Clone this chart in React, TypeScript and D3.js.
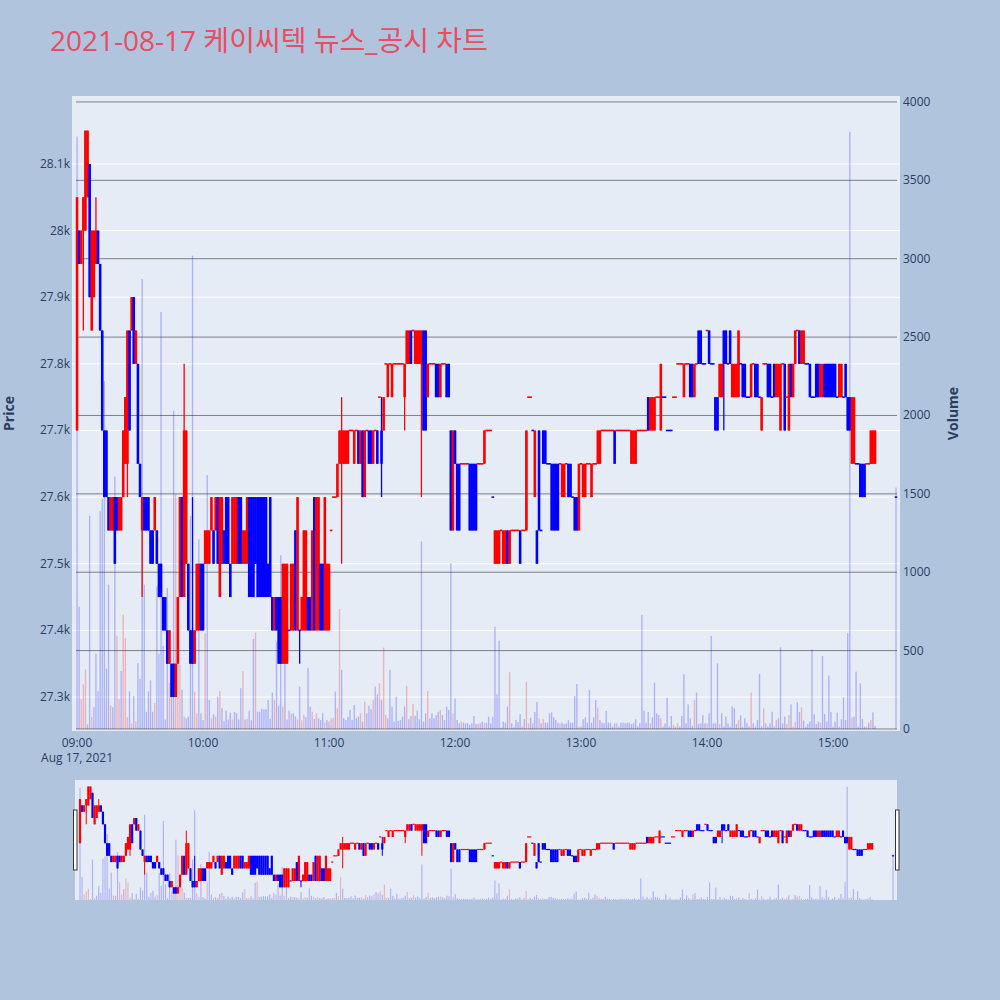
import React from "react";
import * as d3 from "d3";

// ---- text ----
const chartTitle = "2021-08-17 케이씨텍 뉴스_공시 차트";
const dateLabel = "Aug 17, 2021";
const hourLabels = ["09:00", "10:00", "11:00", "12:00", "13:00", "14:00", "15:00"];
const priceTicks = [27300, 27400, 27500, 27600, 27700, 27800, 27900, 28000, 28100];
const volumeTicks = [0, 500, 1000, 1500, 2000, 2500, 3000, 3500, 4000];

// ---- data: index = minutes after 09:00 (null = no trade) ----
const N = null;
const open = [
  27700, 28000, 27950, 28000, 28000, 28050, 28100, 27850, 27900, 27950,
  28000, 27950, 27850, 27700, 27700, 27600, 27550, 27550, 27600, 27600,
  27550, 27550, 27600, 27650, 27650, 27850, 27850, 27900, 27800, 27800,
  27650, 27550, 27600, 27600, 27600, 27550, 27550, 27550, 27550, 27500,
  27500, 27450, 27450, 27400, 27350, 27350, 27350, 27300, 27350, 27450,
  27600, 27450, 27500, 27500, 27400, 27400, 27350, 27400, 27400, 27500,
  27500, 27500, 27500, 27500, 27550, 27550, 27550, 27600, 27450, 27500,
  27550, 27600, 27600, 27500, 27500, 27500, 27500, 27600, 27600, 27500,
  27500, 27500, 27600, 27600, 27600, 27600, 27600, 27600, 27600, 27600,
  27600, 27500, 27600, 27450, 27400, 27450, 27450, 27450, 27350, 27350,
  27350, 27400, 27400, 27400, 27550, 27400, 27400, 27400, 27400, 27400,
  27450, 27450, 27400, 27600, 27400, 27400, 27500, 27500, 27400, 27400,
  27400, 27550, 27600, 27600, 27600, 27650, 27650, 27650, 27650, 27650,
  27700, 27700, 27650, 27700, 27700, 27650, 27700, 27600, 27700, 27700,
  27700, 27650, 27700, 27700, 27750, 27700, 27700, 27800, 27750, 27800,
  27750, 27800, 27800, 27800, 27800, 27800, 27750, 27800, 27800, 27850,
  27850, 27800, 27800, 27800, 27800, 27850, 27850, 27750, 27800, 27800,
  27800, 27800, 27800, 27750, 27800, 27800, 27800, 27800, 27700, 27550,
  27700, 27650, 27650, 27650, 27650, 27650, 27650, 27650, 27650, 27650,
  27650, 27650, 27650, 27650, 27650, 27700, 27700, 27700, 27600, 27500,
  27500, 27500, 27550, 27500, 27500, 27550, 27500, 27550, 27550, 27550,
  27550, 27550, 27550, 27550, 27550, 27750, 27750, 27700, 27600, 27550,
  27700, 27550, 27700, 27700, 27650, 27650, 27650, 27650, 27650, 27650,
  27650, 27600, 27600, 27650, 27650, 27650, 27600, 27600, 27600, 27550,
  27650, 27600, 27600, 27650, 27650, 27600, 27650, 27650, 27650, 27650,
  27700, 27700, 27700, 27700, 27700, 27700, 27700, 27700, 27700, 27700,
  27700, 27700, 27700, 27700, 27650, 27650, 27650, 27700, 27700, 27700,
  27700, 27700, 27750, 27700, 27700, 27700, 27750, 27750, 27700, 27750,
  27750, 27700, 27700, 27700, 27750, 27750, 27800, 27800, 27800, 27750,
  27800, 27800, 27800, 27800, 27750, 27800, 27850, 27850, 27800, 27800,
  27850, 27850, 27800, 27800, 27750, 27750, 27750, 27750, 27850, 27850,
  27800, 27850, 27750, 27750, 27750, 27750, 27800, 27800, 27800, 27750,
  27750, 27750, 27800, 27800, 27800, 27750, 27700, 27800, 27800, 27800,
  27800, 27750, 27800, 27750, 27750, 27700, 27800, 27800, 27750, 27700,
  27800, 27750, 27800, 27850, 27850, 27800, 27800, 27800, 27800, 27800,
  27750, 27750, 27800, 27800, 27750, 27750, 27800, 27800, 27800, 27800,
  27800, 27800, 27750, 27750, 27750, 27750, 27800, 27750, 27750, 27650,
  27650, 27650, 27650, 27650, 27650, 27650, 27650, 27650, 27650, 27650, 27650,
  N, N, N, N, N, N, N, N, N,
  27600,
];
const close = [
  28050, 27950, 28000, 28050, 28150, 28150, 27900, 28000, 28000, 28000,
  27950, 27850, 27700, 27600, 27600, 27550, 27600, 27600, 27500, 27550,
  27600, 27600, 27700, 27750, 27850, 27700, 27900, 27800, 27850, 27650,
  27600, 27600, 27550, 27550, 27550, 27500, 27500, 27600, 27500, 27450,
  27450, 27400, 27400, 27350, 27400, 27300, 27300, 27350, 27450, 27600,
  27450, 27700, 27700, 27400, 27350, 27350, 27400, 27500, 27500, 27400,
  27400, 27550, 27550, 27550, 27600, 27500, 27600, 27500, 27600, 27600,
  27500, 27500, 27500, 27450, 27600, 27600, 27600, 27500, 27500, 27550,
  27550, 27600, 27450, 27450, 27450, 27500, 27450, 27450, 27450, 27450,
  27450, 27450, 27450, 27400, 27450, 27400, 27350, 27350, 27500, 27500,
  27500, 27400, 27500, 27500, 27400, 27600, 27400, 27450, 27550, 27550,
  27400, 27400, 27550, 27400, 27600, 27600, 27400, 27400, 27600, 27500,
  27500, 27550, 27600, 27600, 27650, 27700, 27700, 27700, 27700, 27700,
  27700, 27700, 27700, 27700, 27650, 27700, 27600, 27700, 27700, 27650,
  27650, 27700, 27700, 27650, 27750, 27650, 27750, 27800, 27800, 27800,
  27800, 27800, 27800, 27800, 27800, 27800, 27800, 27850, 27850, 27800,
  27850, 27850, 27850, 27850, 27850, 27700, 27700, 27800, 27800, 27800,
  27800, 27750, 27750, 27800, 27800, 27800, 27750, 27750, 27550, 27700,
  27650, 27550, 27550, 27650, 27650, 27650, 27650, 27550, 27550, 27550,
  27550, 27650, 27650, 27650, 27700, 27700, 27700, 27700, 27600, 27550,
  27550, 27550, 27550, 27550, 27550, 27500, 27550, 27550, 27550, 27550,
  27550, 27500, 27550, 27550, 27700, 27750, 27750, 27700, 27700, 27500,
  27550, 27550, 27650, 27650, 27650, 27650, 27550, 27550, 27550, 27550,
  27650, 27650, 27650, 27650, 27600, 27600, 27600, 27550, 27550, 27650,
  27650, 27650, 27650, 27650, 27650, 27650, 27650, 27650, 27700, 27700,
  27700, 27700, 27700, 27700, 27700, 27700, 27650, 27700, 27700, 27700,
  27700, 27700, 27700, 27700, 27700, 27700, 27700, 27700, 27700, 27700,
  27700, 27700, 27700, 27750, 27750, 27750, 27750, 27750, 27800, 27750,
  27750, 27700, 27700, 27700, 27750, 27750, 27800, 27800, 27800, 27800,
  27800, 27800, 27750, 27750, 27800, 27800, 27800, 27800, 27800, 27800,
  27850, 27800, 27800, 27800, 27700, 27700, 27800, 27800, 27800, 27800,
  27800, 27800, 27800, 27800, 27800, 27850, 27800, 27750, 27750, 27750,
  27750, 27800, 27800, 27750, 27750, 27750, 27750, 27800, 27800, 27750,
  27750, 27750, 27750, 27800, 27800, 27800, 27800, 27700, 27750, 27800,
  27750, 27800, 27850, 27850, 27800, 27850, 27850, 27800, 27800, 27750,
  27750, 27750, 27750, 27750, 27800, 27800, 27750, 27750, 27750, 27750,
  27750, 27750, 27750, 27800, 27800, 27750, 27750, 27700, 27700, 27750,
  27750, 27650, 27650, 27600, 27600, 27600, 27650, 27650, 27700, 27700, 27700,
  N, N, N, N, N, N, N, N, N,
  27600,
];
const high = [
  28050, 28000, 28000, 28050, 28150, 28150, 28100, 28000, 28000, 28050,
  28000, 27950, 27850, 27700, 27700, 27600, 27600, 27600, 27600, 27600,
  27600, 27600, 27700, 27750, 27850, 27850, 27900, 27900, 27850, 27800,
  27650, 27600, 27600, 27600, 27600, 27550, 27550, 27600, 27550, 27500,
  27500, 27450, 27450, 27400, 27400, 27350, 27350, 27350, 27450, 27600,
  27600, 27800, 27700, 27500, 27400, 27600, 27400, 27500, 27500, 27500,
  27500, 27550, 27550, 27550, 27600, 27550, 27600, 27600, 27600, 27600,
  27550, 27600, 27600, 27500, 27600, 27600, 27600, 27600, 27600, 27550,
  27550, 27600, 27600, 27600, 27600, 27600, 27600, 27600, 27600, 27600,
  27600, 27500, 27600, 27450, 27450, 27450, 27450, 27450, 27500, 27500,
  27500, 27400, 27500, 27500, 27550, 27600, 27400, 27450, 27550, 27550,
  27450, 27450, 27550, 27600, 27600, 27600, 27500, 27500, 27600, 27500,
  27500, 27550, 27600, 27600, 27650, 27700, 27750, 27700, 27700, 27700,
  27700, 27700, 27700, 27700, 27700, 27700, 27700, 27700, 27700, 27700,
  27700, 27700, 27700, 27700, 27750, 27750, 27750, 27800, 27800, 27800,
  27800, 27800, 27800, 27800, 27800, 27800, 27800, 27850, 27850, 27850,
  27850, 27850, 27850, 27850, 27850, 27850, 27850, 27800, 27800, 27800,
  27800, 27800, 27800, 27800, 27800, 27800, 27800, 27800, 27700, 27700,
  27700, 27650, 27650, 27650, 27650, 27650, 27650, 27650, 27650, 27650,
  27650, 27650, 27650, 27650, 27700, 27700, 27700, 27700, 27600, 27550,
  27550, 27550, 27550, 27550, 27550, 27550, 27550, 27550, 27550, 27550,
  27550, 27550, 27550, 27550, 27700, 27750, 27750, 27700, 27700, 27550,
  27700, 27550, 27700, 27700, 27650, 27650, 27650, 27650, 27650, 27650,
  27650, 27650, 27650, 27650, 27650, 27650, 27600, 27600, 27600, 27650,
  27650, 27650, 27650, 27650, 27650, 27650, 27650, 27650, 27700, 27700,
  27700, 27700, 27700, 27700, 27700, 27700, 27700, 27700, 27700, 27700,
  27700, 27700, 27700, 27700, 27700, 27700, 27700, 27700, 27700, 27700,
  27700, 27700, 27750, 27750, 27750, 27750, 27750, 27750, 27800, 27750,
  27750, 27700, 27700, 27700, 27750, 27750, 27800, 27800, 27800, 27800,
  27800, 27800, 27800, 27800, 27800, 27800, 27850, 27850, 27800, 27800,
  27850, 27850, 27800, 27800, 27750, 27750, 27800, 27800, 27850, 27850,
  27800, 27850, 27800, 27800, 27800, 27850, 27800, 27800, 27800, 27750,
  27750, 27800, 27800, 27800, 27800, 27750, 27750, 27800, 27800, 27800,
  27800, 27750, 27800, 27800, 27800, 27800, 27800, 27800, 27750, 27800,
  27800, 27800, 27850, 27850, 27850, 27850, 27850, 27800, 27800, 27800,
  27750, 27750, 27800, 27800, 27800, 27800, 27800, 27800, 27800, 27800,
  27800, 27800, 27750, 27800, 27800, 27750, 27800, 27750, 27750, 27750,
  27750, 27650, 27650, 27650, 27650, 27650, 27650, 27650, 27700, 27700, 27700,
  N, N, N, N, N, N, N, N, N,
  27600,
];
const low = [
  27700, 27950, 27950, 27850, 28000, 28050, 27900, 27850, 27900, 27950,
  27950, 27850, 27700, 27600, 27600, 27550, 27550, 27550, 27500, 27550,
  27550, 27550, 27600, 27650, 27600, 27700, 27850, 27800, 27800, 27650,
  27600, 27450, 27550, 27550, 27550, 27500, 27500, 27550, 27500, 27450,
  27450, 27400, 27400, 27350, 27350, 27300, 27300, 27300, 27350, 27450,
  27450, 27450, 27500, 27400, 27350, 27350, 27350, 27400, 27400, 27400,
  27400, 27500, 27500, 27500, 27550, 27500, 27550, 27500, 27450, 27500,
  27500, 27500, 27500, 27450, 27500, 27500, 27500, 27500, 27500, 27500,
  27500, 27500, 27450, 27450, 27450, 27500, 27450, 27450, 27450, 27450,
  27450, 27450, 27450, 27400, 27400, 27400, 27350, 27350, 27350, 27350,
  27350, 27400, 27400, 27400, 27400, 27400, 27350, 27400, 27400, 27400,
  27400, 27400, 27400, 27400, 27400, 27400, 27400, 27400, 27400, 27400,
  27400, 27550, 27600, 27600, 27600, 27650, 27500, 27650, 27650, 27650,
  27700, 27700, 27650, 27700, 27650, 27650, 27600, 27600, 27700, 27650,
  27650, 27650, 27700, 27650, 27750, 27600, 27700, 27800, 27750, 27800,
  27750, 27800, 27800, 27800, 27800, 27800, 27700, 27800, 27800, 27800,
  27850, 27800, 27800, 27800, 27600, 27700, 27700, 27750, 27800, 27800,
  27800, 27750, 27750, 27750, 27800, 27800, 27750, 27750, 27550, 27550,
  27650, 27550, 27550, 27650, 27650, 27650, 27650, 27550, 27550, 27550,
  27550, 27650, 27650, 27650, 27650, 27700, 27700, 27700, 27600, 27500,
  27500, 27500, 27550, 27500, 27500, 27500, 27500, 27550, 27550, 27550,
  27550, 27500, 27550, 27550, 27550, 27750, 27750, 27700, 27600, 27500,
  27550, 27550, 27650, 27650, 27650, 27650, 27550, 27550, 27550, 27550,
  27650, 27600, 27600, 27650, 27600, 27600, 27600, 27550, 27550, 27550,
  27650, 27600, 27600, 27650, 27650, 27600, 27650, 27650, 27650, 27650,
  27700, 27700, 27700, 27700, 27700, 27700, 27650, 27700, 27700, 27700,
  27700, 27700, 27700, 27700, 27650, 27650, 27650, 27700, 27700, 27700,
  27700, 27700, 27700, 27700, 27700, 27700, 27750, 27750, 27700, 27750,
  27750, 27700, 27700, 27700, 27750, 27750, 27800, 27800, 27800, 27750,
  27800, 27800, 27750, 27750, 27750, 27800, 27800, 27800, 27800, 27800,
  27850, 27800, 27800, 27800, 27700, 27700, 27750, 27750, 27700, 27800,
  27800, 27800, 27750, 27750, 27750, 27750, 27800, 27750, 27750, 27750,
  27750, 27750, 27800, 27750, 27750, 27750, 27700, 27800, 27800, 27750,
  27750, 27750, 27750, 27750, 27750, 27700, 27800, 27700, 27750, 27700,
  27750, 27750, 27800, 27850, 27800, 27800, 27800, 27800, 27800, 27750,
  27750, 27750, 27750, 27750, 27750, 27750, 27750, 27750, 27750, 27750,
  27750, 27750, 27750, 27750, 27750, 27750, 27750, 27700, 27700, 27650,
  27650, 27650, 27650, 27600, 27600, 27600, 27650, 27650, 27650, 27650, 27650,
  N, N, N, N, N, N, N, N, N,
  27600,
];
const volume = [
  3780, 780, 190, 285, 380, 30, 1360, 75, 140, 480,
  240, 1390, 1465, 2220, 385, 920, 150, 140, 1610, 595,
  190, 370, 730, 580, 75, 240, 35, 210, 50, 420,
  320, 2870, 920, 110, 240, 310, 110, 165, 910, 480,
  2660, 530, 60, 900, 295, 240, 2030, 1500, 440, 410,
  250, 80, 68, 79, 1360, 3020, 238, 100, 1210, 100,
  57, 610, 1620, 185, 68, 94, 79, 206, 243, 132,
  50, 117, 60, 104, 60, 109, 100, 60, 260, 370,
  60, 65, 117, 55, 575, 615, 110, 110, 128, 125,
  125, 185, 65, 232, 185, 557, 149, 1110, 143, 420,
  60, 117, 100, 100, 80, 60, 270, 55, 90, 75,
  390, 143, 110, 65, 100, 68, 57, 100, 40, 57,
  47, 68, 70, 238, 132, 765, 377, 68, 57, 79,
  121, 57, 153, 68, 79, 100, 47, 174, 100, 149,
  125, 185, 270, 221, 292, 185, 519, 90, 68, 377,
  143, 47, 206, 51, 57, 79, 143, 275, 62, 83,
  160, 83, 117, 62, 1196, 47, 100, 243, 68, 100,
  68, 89, 110, 121, 89, 57, 143, 121, 1058, 100,
  194, 57, 36, 47, 40, 36, 36, 26, 36, 83,
  32, 32, 36, 47, 40, 40, 79, 36, 79, 653,
  221, 562, 9, 47, 40, 143, 362, 36, 11, 57,
  45, 94, 15, 62, 302, 36, 72, 36, 109, 172,
  68, 36, 64, 40, 40, 100, 106, 74, 57, 40,
  36, 40, 32, 36, 57, 40, 40, 210, 287, 15,
  15, 62, 74, 40, 249, 40, 74, 185, 136, 57,
  40, 36, 115, 40, 40, 15, 36, 36, 15, 40,
  40, 36, 40, 40, 32, 36, 62, 15, 36, 728,
  117, 40, 109, 36, 74, 296, 100, 89, 68, 15,
  36, 200, 15, 83, 26, 15, 36, 15, 83, 349,
  36, 157, 68, 19, 185, 232, 32, 36, 89, 36,
  36, 100, 594, 36, 36, 419, 32, 100, 15, 79,
  36, 15, 143, 132, 32, 57, 87, 15, 68, 36,
  15, 232, 36, 15, 57, 351, 15, 132, 36, 15,
  36, 110, 15, 57, 68, 521, 36, 79, 32, 89,
  157, 15, 45, 170, 109, 138, 53, 15, 32, 47,
  508, 94, 32, 47, 40, 466, 96, 47, 340, 109,
  15, 47, 104, 15, 62, 202, 57, 611, 3810, 74,
  79, 366, 15, 292, 64, 15, 15, 40, 57, 106, 20,
  N, N, N, N, N, N, N, N, N,
  1540,
];

const RED = "#ff0000";
const BLUE = "#0000ff";
const FONT = "'Open Sans', verdana, arial, sans-serif";
const TICK_COLOR = "#2a3f5f";

type Candle = {
  i: number; o: number; h: number; l: number; c: number; v: number;
  up: boolean; volUp: boolean;
};

function buildCandles(): Candle[] {
  const out: Candle[] = [];
  let prevClose: number | null = null;
  let prevUp = true;
  open.forEach((o, i) => {
    if (o == null) return;
    const c = close[i] as number;
    let up: boolean;
    if (c > o) up = true;
    else if (c < o) up = false;
    else if (prevClose != null && c !== prevClose) up = c > prevClose;
    else up = prevUp;
    const volUp = prevClose != null && c > prevClose;
    out.push({ i, o, h: high[i] as number, l: low[i] as number, c, v: volume[i] as number, up, volUp });
    prevClose = c;
    prevUp = up;
  });
  return out;
}

export default function App() {
  const candles = buildCandles();
  const M = { l: 72, r: 900, t: 96, b: 731 };
  const S = { l: 75, r: 897, t: 780, b: 900 };
  const xDomain = [-2.4, 391.9];
  const priceDomain = [27249, 28202];
  const volDomain = [-13, 4038];

  const x = d3.scaleLinear().domain(xDomain).range([M.l, M.r]);
  const yP = d3.scaleLinear().domain(priceDomain).range([M.b, M.t]);
  const yV = d3.scaleLinear().domain(volDomain).range([M.b, M.t]);
  const xs = d3.scaleLinear().domain(xDomain).range([S.l, S.r]);
  const ysP = d3.scaleLinear().domain(priceDomain).range([S.b, S.t]);
  const ysV = d3.scaleLinear().domain([0, 4038]).range([S.b, S.t]);
  const fmtK = d3.format("~s");

  const drawVolume = (xS: any, yS: any, bw: number, pre: string) =>
    candles.map((d) => (
      <rect
        key={pre + d.i}
        x={xS(d.i) - bw / 2}
        y={yS(d.v)}
        width={bw}
        height={Math.max(0, yS(0) - yS(d.v))}
        fill={d.volUp ? RED : BLUE}
        fillOpacity={0.24}
      />
    ));

  const drawCandles = (xS: any, yS: any, bw: number, ww: number, minH: number, pre: string) =>
    candles.map((d) => {
      const col = d.up ? RED : BLUE;
      const cx = xS(d.i);
      const yTop = yS(Math.max(d.o, d.c));
      const yBot = yS(Math.min(d.o, d.c));
      const hgt = Math.max(yBot - yTop, minH);
      return (
        <g key={pre + d.i}>
          {d.h !== d.l && (
            <line x1={cx} x2={cx} y1={yS(d.h)} y2={yS(d.l)} stroke={col} strokeWidth={ww} />
          )}
          <rect x={cx - bw / 2} y={(yTop + yBot) / 2 - hgt / 2} width={bw} height={hgt} fill={col} />
        </g>
      );
    });

  return (
    <svg
      width={1000}
      height={1000}
      style={{ position: "absolute", left: 0, top: 0, display: "block" }}
      fontFamily={FONT}
    >
      <defs>
        <clipPath id="mainClip">
          <rect x={M.l} y={M.t} width={M.r - M.l} height={M.b - M.t} />
        </clipPath>
        <clipPath id="sliderClip">
          <rect x={S.l} y={S.t} width={S.r - S.l} height={S.b - S.t} />
        </clipPath>
      </defs>
      <rect x={0} y={0} width={1000} height={1000} fill="#b0c4de" />

      <text
        x={50}
        y={51}
        fontSize={28}
        fill="#ea4c62"
        fontFamily="'Open Sans', 'Noto Sans CJK KR', sans-serif"
      >
        {chartTitle}
      </text>

      {/* main plot area */}
      <rect x={M.l} y={M.t} width={M.r - M.l} height={M.b - M.t} fill="#e5ecf6" />
      {priceTicks.map((t) => (
        <line key={"pg" + t} x1={M.l} x2={M.r} y1={yP(t)} y2={yP(t)} stroke="#ffffff" strokeWidth={1} />
      ))}
      {volumeTicks.map((t) => (
        <line key={"vg" + t} x1={76} x2={897} y1={yV(t)} y2={yV(t)} stroke="#808080" strokeWidth={1} />
      ))}
      <g clipPath="url(#mainClip)">
        {drawVolume(x, yV, 1.4, "v")}
        {drawCandles(x, yP, 2.6, 1.3, 1.6, "c")}
      </g>

      {/* left price axis */}
      {priceTicks.map((t) => (
        <text key={"pl" + t} x={70} y={yP(t) + 4} fontSize={12} fill={TICK_COLOR} textAnchor="end">
          {fmtK(t)}
        </text>
      ))}
      <text
        transform={`translate(14,${(M.t + M.b) / 2}) rotate(-90)`}
        fontSize={14}
        fontWeight="bold"
        fill={TICK_COLOR}
        textAnchor="middle"
      >
        Price
      </text>

      {/* right volume axis */}
      {volumeTicks.map((t) => (
        <text key={"vl" + t} x={903} y={yV(t) + 4} fontSize={12} fill={TICK_COLOR} textAnchor="start">
          {t}
        </text>
      ))}
      <text
        transform={`translate(958,${(M.t + M.b) / 2}) rotate(-90)`}
        fontSize={14}
        fontWeight="bold"
        fill={TICK_COLOR}
        textAnchor="middle"
      >
        Volume
      </text>

      {/* time axis */}
      {hourLabels.map((h, k) => (
        <text key={"h" + h} x={x(k * 60)} y={746.5} fontSize={12} fill={TICK_COLOR} textAnchor="middle">
          {h}
        </text>
      ))}
      <text x={x(0)} y={761.5} fontSize={12} fill={TICK_COLOR} textAnchor="middle">
        {dateLabel}
      </text>

      {/* range slider */}
      <rect x={S.l} y={S.t} width={S.r - S.l} height={S.b - S.t} fill="#e5ecf6" />
      <g clipPath="url(#sliderClip)">
        {drawVolume(xs, ysV, 1.2, "sv")}
        {drawCandles(xs, ysP, 2.2, 1, 1.2, "sc")}
      </g>
      <rect x={73.5} y={810} width={3.5} height={60} fill="#ffffff" stroke="#333" strokeWidth={1} />
      <rect x={895.5} y={810} width={3.5} height={60} fill="#ffffff" stroke="#333" strokeWidth={1} />
    </svg>
  );
}
